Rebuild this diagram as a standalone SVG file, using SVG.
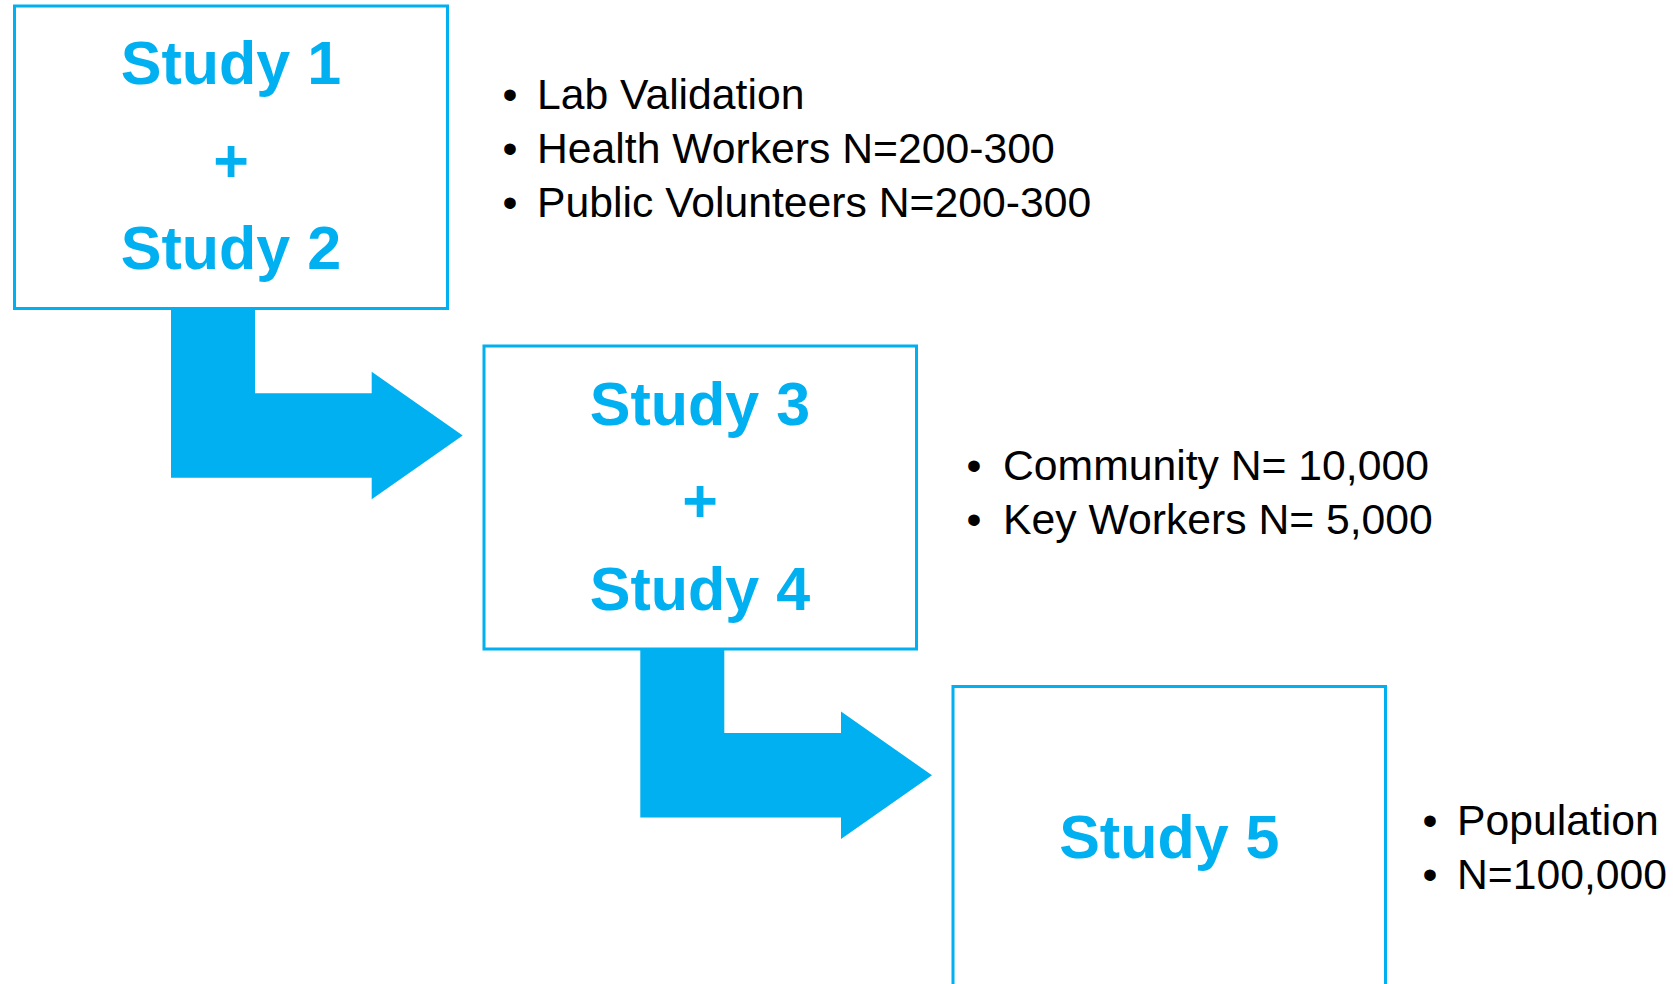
<svg xmlns="http://www.w3.org/2000/svg" width="1673" height="984" viewBox="0 0 1673 984">
  <style>
    .box { fill: #ffffff; stroke: #00B0F0; stroke-width: 3; }
    .title { font-family: "Liberation Sans", Arial, sans-serif; font-weight: bold; font-size: 61px; fill: #00B0F0; text-anchor: middle; }
    .item { font-family: "Liberation Sans", Arial, sans-serif; font-size: 42.7px; fill: #000000; }
    .dot { font-family: "Liberation Sans", Arial, sans-serif; font-size: 42.7px; fill: #000000; text-anchor: middle; }
    .flow { fill: #00B0F0; }
  </style>
  <defs>
    <!-- bent arrow: drops down from a box, then turns right -->
    <path id="bent-arrow" d="M171,308 L255,308 L255,393.3 L371.7,393.3 L371.7,371.7 L462.7,435.5 L371.7,499.3 L371.7,477.7 L171,477.7 Z"/>
  </defs>

  <rect width="1673" height="984" fill="#ffffff"/>

  <g id="connectors">
    <use href="#bent-arrow" class="flow"/>
    <use href="#bent-arrow" class="flow" transform="translate(469.3,339.8)"/>
  </g>

  <g id="study-1-2">
    <rect class="box" x="14.5" y="6" width="433" height="302.5"/>
    <text class="title" x="231" y="84">Study 1</text>
    <text class="title" x="231" y="182">+</text>
    <text class="title" x="231" y="269">Study 2</text>
  </g>

  <g id="study-1-2-notes">
    <text class="dot" x="510" y="109">•</text>
    <text class="item" x="537" y="109">Lab Validation</text>
    <text class="dot" x="510" y="163">•</text>
    <text class="item" x="537" y="163">Health Workers N=200-300</text>
    <text class="dot" x="510" y="217">•</text>
    <text class="item" x="537" y="217">Public Volunteers N=200-300</text>
  </g>

  <g id="study-3-4">
    <rect class="box" x="484" y="346" width="432.5" height="303"/>
    <text class="title" x="700" y="424.5">Study 3</text>
    <text class="title" x="700" y="522">+</text>
    <text class="title" x="700" y="609.5">Study 4</text>
  </g>

  <g id="study-3-4-notes">
    <text class="dot" x="974" y="479.5">•</text>
    <text class="item" x="1003" y="479.5">Community N= 10,000</text>
    <text class="dot" x="974" y="534">•</text>
    <text class="item" x="1003" y="534">Key Workers N= 5,000</text>
  </g>

  <g id="study-5">
    <rect class="box" x="953" y="686.5" width="432.5" height="303"/>
    <text class="title" x="1169.3" y="858">Study 5</text>
  </g>

  <g id="study-5-notes">
    <text class="dot" x="1430" y="835">•</text>
    <text class="item" x="1457" y="835">Population</text>
    <text class="dot" x="1430" y="889">•</text>
    <text class="item" x="1457" y="889">N=100,000</text>
  </g>
</svg>
